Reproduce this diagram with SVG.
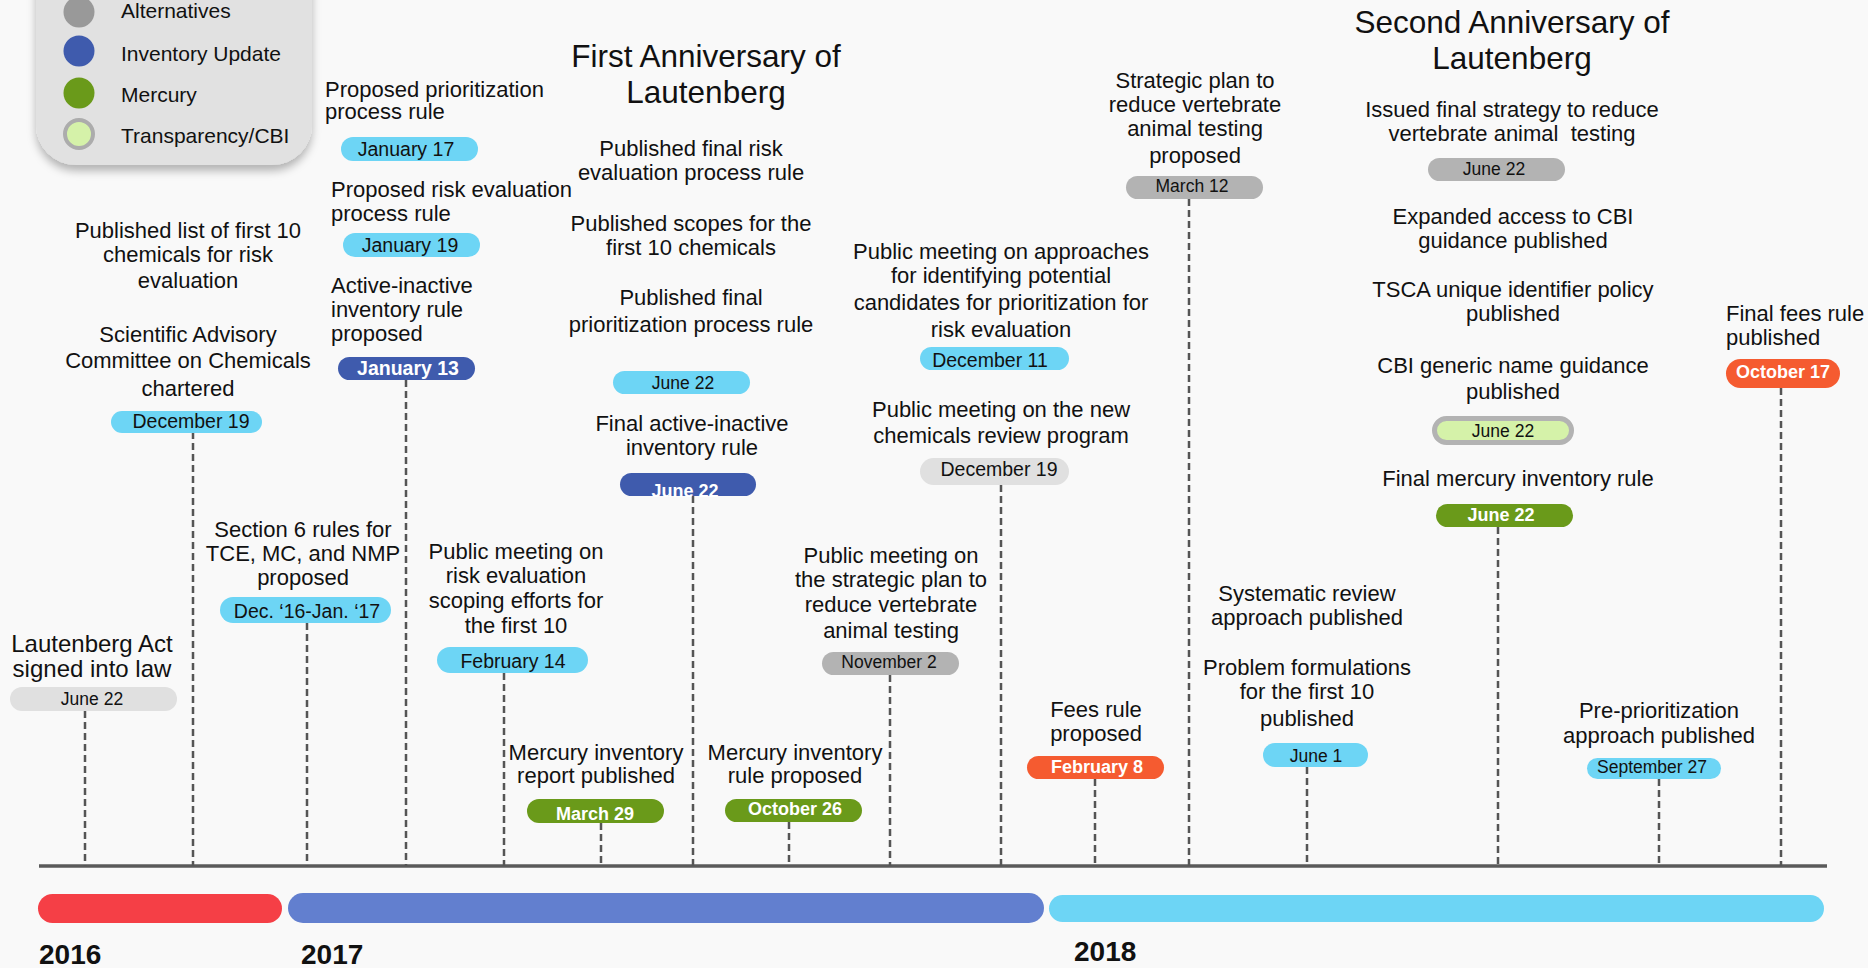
<svg xmlns="http://www.w3.org/2000/svg" width="1868" height="968" viewBox="0 0 1868 968">
<defs>
<filter id="shadow" x="-10%" y="-10%" width="120%" height="130%">
<feDropShadow dx="0" dy="6" stdDeviation="4" flood-color="#000" flood-opacity="0.28"/>
</filter>
</defs>
<style>
text{font-family:'Liberation Sans',Arial,sans-serif;fill:#111}
.t{font-size:22px;text-anchor:middle}
.l{font-size:22px;text-anchor:start}
.h{font-size:31.5px;text-anchor:middle}
.big{font-size:24px;text-anchor:middle}
.leg{font-size:21px}
.yr{font-size:28px;font-weight:bold}
.p{font-size:17.5px;text-anchor:middle}
.pb{font-size:19.5px;text-anchor:middle}
.w{font-size:18px;font-weight:bold;text-anchor:middle;fill:#fff}
.cy{fill:#6dd5f5}
.db{fill:#3f5bad}
.gr{fill:#6a9a1a}
.or{fill:#f55b30}
.g1{fill:#b3b3b3}
.g2{fill:#e0e0e0}
.lg{fill:#d5f2a9;stroke:#b3b3b3;stroke-width:5}
.dash{stroke:#555;stroke-width:2.5;stroke-dasharray:7 4;fill:none}
</style>
<rect width="1868" height="968" fill="#f9f9f9"/>

<g id="legend">
<rect x="36" y="-60" width="276" height="225" rx="40" fill="#e1e1e1" filter="url(#shadow)"/>
<circle cx="79" cy="12" r="15.5" fill="#999"/>
<circle cx="79" cy="51" r="15.5" fill="#3f5bad"/>
<circle cx="79" cy="93" r="15.5" fill="#6a9a1a"/>
<circle cx="79" cy="134" r="14" fill="#d5f2a9" stroke="#acacac" stroke-width="4"/>
<text class="leg" x="121" y="18">Alternatives</text>
<text class="leg" x="121" y="61">Inventory Update</text>
<text class="leg" x="121" y="102">Mercury</text>
<text class="leg" x="121" y="143">Transparency/CBI</text>
</g>

<g id="connectors">
<line x1="39" y1="866" x2="1827" y2="866" stroke="#5a5a5a" stroke-width="3.5"/>
<line class="dash" x1="85" y1="711" x2="85" y2="866"/>
<line class="dash" x1="193" y1="432" x2="193" y2="866"/>
<line class="dash" x1="307" y1="623" x2="307" y2="866"/>
<line class="dash" x1="406" y1="380" x2="406" y2="866"/>
<line class="dash" x1="504" y1="673" x2="504" y2="866"/>
<line class="dash" x1="601" y1="823" x2="601" y2="866"/>
<line class="dash" x1="693" y1="496" x2="693" y2="866"/>
<line class="dash" x1="789" y1="822" x2="789" y2="866"/>
<line class="dash" x1="890" y1="675" x2="890" y2="866"/>
<line class="dash" x1="1001" y1="485" x2="1001" y2="866"/>
<line class="dash" x1="1095" y1="779" x2="1095" y2="866"/>
<line class="dash" x1="1189" y1="199" x2="1189" y2="866"/>
<line class="dash" x1="1307" y1="767" x2="1307" y2="866"/>
<line class="dash" x1="1498" y1="527" x2="1498" y2="866"/>
<line class="dash" x1="1659" y1="779" x2="1659" y2="866"/>
<line class="dash" x1="1781" y1="388" x2="1781" y2="866"/>
</g>

<g id="years">
<rect x="38" y="894" width="244" height="29" rx="14.5" fill="#f53f46"/>
<rect x="288" y="893" width="756" height="30" rx="15" fill="#627fcf"/>
<rect x="1049" y="895" width="775" height="27" rx="13.5" fill="#6dd5f5"/>
<text class="yr" x="39" y="964">2016</text>
<text class="yr" x="301" y="964">2017</text>
<text class="yr" x="1074" y="961">2018</text>
</g>

<g id="ev-lautenberg-act">
<text class="big" x="92" y="652">Lautenberg Act</text>
<text class="big" x="92" y="677">signed into law</text>
<rect class="g2" x="10" y="687" width="167" height="24" rx="12"/>
<text class="p" x="92" y="705">June 22</text>
</g>

<g id="ev-dec-2016">
<text class="t" x="188" y="238">Published list of first 10</text>
<text class="t" x="188" y="262">chemicals for risk</text>
<text class="t" x="188" y="288">evaluation</text>
<text class="t" x="188" y="342">Scientific Advisory</text>
<text class="t" x="188" y="368">Committee on Chemicals</text>
<text class="t" x="188" y="396">chartered</text>
<rect class="cy" x="111" y="411" width="151" height="22" rx="11"/>
<text class="pb" x="191" y="428">December 19</text>
</g>

<g id="ev-section6">
<text class="t" x="303" y="537">Section 6 rules for</text>
<text class="t" x="303" y="561">TCE, MC, and NMP</text>
<text class="t" x="303" y="585">proposed</text>
<rect class="cy" x="220" y="597" width="171" height="26" rx="13"/>
<text class="pb" x="307" y="618">Dec. ‘16-Jan. ‘17</text>
</g>

<g id="ev-jan-2017">
<text class="l" x="325" y="97">Proposed prioritization</text>
<text class="l" x="325" y="119">process rule</text>
<rect class="cy" x="341" y="137" width="137" height="24" rx="12"/>
<text class="pb" x="406" y="156">January 17</text>
<text class="l" x="331" y="197">Proposed risk evaluation</text>
<text class="l" x="331" y="221">process rule</text>
<rect class="cy" x="343" y="233" width="137" height="24" rx="12"/>
<text class="pb" x="410" y="252">January 19</text>
<text class="l" x="331" y="293">Active-inactive</text>
<text class="l" x="331" y="317">inventory rule</text>
<text class="l" x="331" y="341">proposed</text>
<rect class="db" x="338" y="357" width="137" height="23" rx="11.5"/>
<text class="w" x="408" y="375" style="font-size:19.5px">January 13</text>
</g>

<g id="ev-feb14">
<text class="t" x="516" y="559">Public meeting on</text>
<text class="t" x="516" y="583">risk evaluation</text>
<text class="t" x="516" y="608">scoping efforts for</text>
<text class="t" x="516" y="633">the first 10</text>
<rect class="cy" x="437" y="647" width="151" height="26" rx="13"/>
<text class="pb" x="513" y="668">February 14</text>
</g>

<g id="ev-mar29">
<text class="t" x="596" y="760">Mercury inventory</text>
<text class="t" x="596" y="783">report published</text>
<rect class="gr" x="527" y="799" width="137" height="24" rx="12"/>
<text class="w" x="595" y="820">March 29</text>
</g>

<g id="ev-first-anniversary">
<text class="h" x="706" y="67">First Anniversary of</text>
<text class="h" x="706" y="103">Lautenberg</text>
<text class="t" x="691" y="156">Published final risk</text>
<text class="t" x="691" y="180">evaluation process rule</text>
<text class="t" x="691" y="231">Published scopes for the</text>
<text class="t" x="691" y="255">first 10 chemicals</text>
<text class="t" x="691" y="305">Published final</text>
<text class="t" x="691" y="332">prioritization process rule</text>
<rect class="cy" x="613" y="371" width="137" height="23" rx="11.5"/>
<text class="p" x="683" y="389">June 22</text>
<text class="t" x="692" y="431">Final active-inactive</text>
<text class="t" x="692" y="455">inventory rule</text>
<rect class="db" x="620" y="473" width="136" height="23" rx="11.5"/>
<text class="w" x="685" y="497">June 22</text>
</g>

<g id="ev-oct26">
<text class="t" x="795" y="760">Mercury inventory</text>
<text class="t" x="795" y="783">rule proposed</text>
<rect class="gr" x="725" y="799" width="137" height="23" rx="11.5"/>
<text class="w" x="795" y="815">October 26</text>
</g>

<g id="ev-nov2">
<text class="t" x="891" y="563">Public meeting on</text>
<text class="t" x="891" y="587">the strategic plan to</text>
<text class="t" x="891" y="612">reduce vertebrate</text>
<text class="t" x="891" y="638">animal testing</text>
<rect class="g1" x="822" y="652" width="137" height="23" rx="11.5"/>
<text class="p" x="889" y="668">November 2</text>
</g>

<g id="ev-dec-2017">
<text class="t" x="1001" y="259">Public meeting on approaches</text>
<text class="t" x="1001" y="283">for identifying potential</text>
<text class="t" x="1001" y="310">candidates for prioritization for</text>
<text class="t" x="1001" y="337">risk evaluation</text>
<rect class="cy" x="920" y="347" width="149" height="23" rx="11.5"/>
<text class="pb" x="990" y="367">December 11</text>
<text class="t" x="1001" y="417">Public meeting on the new</text>
<text class="t" x="1001" y="443">chemicals review program</text>
<rect class="g2" x="920" y="458" width="149" height="27" rx="13.5"/>
<text class="pb" x="999" y="476">December 19</text>
</g>

<g id="ev-feb8">
<text class="t" x="1096" y="717">Fees rule</text>
<text class="t" x="1096" y="741">proposed</text>
<rect class="or" x="1027" y="756" width="137" height="23" rx="11.5"/>
<text class="w" x="1097" y="773">February 8</text>
</g>

<g id="ev-mar12">
<text class="t" x="1195" y="88">Strategic plan to</text>
<text class="t" x="1195" y="112">reduce vertebrate</text>
<text class="t" x="1195" y="136">animal testing</text>
<text class="t" x="1195" y="163">proposed</text>
<rect class="g1" x="1126" y="176" width="137" height="23" rx="11.5"/>
<text class="p" x="1192" y="192">March 12</text>
</g>

<g id="ev-jun1">
<text class="t" x="1307" y="601">Systematic review</text>
<text class="t" x="1307" y="625">approach published</text>
<text class="t" x="1307" y="675">Problem formulations</text>
<text class="t" x="1307" y="699">for the first 10</text>
<text class="t" x="1307" y="726">published</text>
<rect class="cy" x="1263" y="743" width="105" height="24" rx="12"/>
<text class="p" x="1316" y="762">June 1</text>
</g>

<g id="ev-second-anniversary">
<text class="h" x="1512" y="33">Second Anniversary of</text>
<text class="h" x="1512" y="69">Lautenberg</text>
<text class="t" x="1512" y="117">Issued final strategy to reduce</text>
<text class="t" x="1512" y="141" xml:space="preserve">vertebrate animal  testing</text>
<rect class="g1" x="1428" y="158" width="137" height="23" rx="11.5"/>
<text class="p" x="1494" y="175">June 22</text>
<text class="t" x="1513" y="224">Expanded access to CBI</text>
<text class="t" x="1513" y="248">guidance published</text>
<text class="t" x="1513" y="297">TSCA unique identifier policy</text>
<text class="t" x="1513" y="321">published</text>
<text class="t" x="1513" y="373">CBI generic name guidance</text>
<text class="t" x="1513" y="399">published</text>
<rect class="lg" x="1434.5" y="418.5" width="137" height="24" rx="12"/>
<text class="p" x="1503" y="437">June 22</text>
<text class="t" x="1518" y="486">Final mercury inventory rule</text>
<rect class="gr" x="1436" y="504" width="137" height="23" rx="11.5"/>
<text class="w" x="1501" y="521">June 22</text>
</g>

<g id="ev-sep27">
<text class="t" x="1659" y="718">Pre-prioritization</text>
<text class="t" x="1659" y="743">approach published</text>
<rect class="cy" x="1587" y="758" width="134" height="21" rx="10.5"/>
<text class="p" x="1652" y="773">September 27</text>
</g>

<g id="ev-oct17">
<text class="l" x="1726" y="321">Final fees rule</text>
<text class="l" x="1726" y="345">published</text>
<rect class="or" x="1726" y="359" width="114" height="29" rx="14.5"/>
<text class="w" x="1783" y="378">October 17</text>
</g>
</svg>
